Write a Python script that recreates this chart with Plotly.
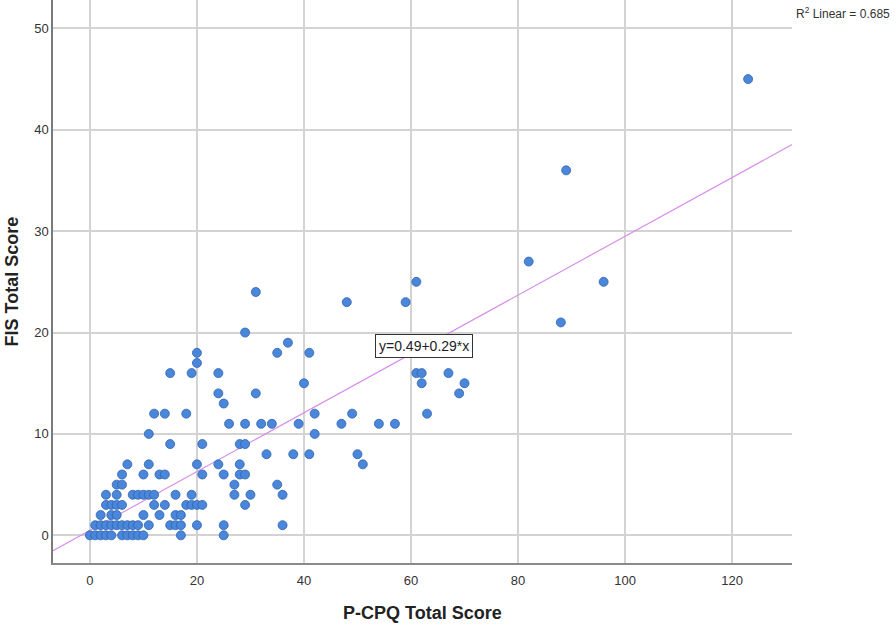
import plotly.graph_objects as go

# ---- data ----
pcpq_total = [
    0, 1, 2, 3, 4, 6, 7, 8, 9, 10, 17, 25,
    1, 2, 3, 4, 5, 6, 7, 8, 9, 11, 15, 16, 17, 20, 25, 36,
    2, 4, 5, 10, 13, 16, 17,
    3, 4, 5, 6, 12, 14, 18, 19, 20, 21, 29,
    3, 5, 8, 9, 10, 11, 12, 16, 19, 27, 30, 36,
    5, 6, 27, 35,
    6, 10, 13, 14, 21, 25, 28, 29,
    7, 11, 20, 24, 28, 51,
    33, 38, 41, 50,
    15, 21, 28, 29,
    11, 42,
    26, 29, 32, 34, 39, 47, 54, 57,
    12, 14, 18, 42, 49, 63,
    25,
    24, 31, 69,
    40, 62, 70,
    15, 19, 24, 61, 62, 67,
    20,
    20, 35, 41,
    37,
    29,
    88,
    48, 59,
    31,
    61, 96,
    82,
    89,
    123,
]
fis_total = [
    0, 0, 0, 0, 0, 0, 0, 0, 0, 0, 0, 0,
    1, 1, 1, 1, 1, 1, 1, 1, 1, 1, 1, 1, 1, 1, 1, 1,
    2, 2, 2, 2, 2, 2, 2,
    3, 3, 3, 3, 3, 3, 3, 3, 3, 3, 3,
    4, 4, 4, 4, 4, 4, 4, 4, 4, 4, 4, 4,
    5, 5, 5, 5,
    6, 6, 6, 6, 6, 6, 6, 6,
    7, 7, 7, 7, 7, 7,
    8, 8, 8, 8,
    9, 9, 9, 9,
    10, 10,
    11, 11, 11, 11, 11, 11, 11, 11,
    12, 12, 12, 12, 12, 12,
    13,
    14, 14, 14,
    15, 15, 15,
    16, 16, 16, 16, 16, 16,
    17,
    18, 18, 18,
    19,
    20,
    21,
    23, 23,
    24,
    25, 25,
    27,
    36,
    45,
]
fit_intercept = 0.49
fit_slope = 0.29
r2_linear = 0.685
x_ticks = [0, 20, 40, 60, 80, 100, 120]
y_ticks = [0, 10, 20, 30, 40, 50]

# ---- layout constants ----
X_RANGE = [-6.9, 131.2]
Y_RANGE = [-2.73, 52.8]
SANS = "Liberation Sans, Arial, sans-serif"

line_x = X_RANGE
line_y = [fit_intercept + fit_slope * v for v in line_x]

fig = go.Figure()
fig.add_trace(go.Scatter(
    x=line_x, y=line_y, mode="lines",
    line=dict(color="#d990ea", width=1.2),
    hoverinfo="skip", showlegend=False,
))
fig.add_trace(go.Scatter(
    x=pcpq_total, y=fis_total, mode="markers",
    marker=dict(size=9, color="#4a86da", line=dict(color="#2f63b0", width=0.8)),
    showlegend=False,
))

fig.update_layout(
    width=896, height=627,
    margin=dict(l=53, r=104, t=0, b=64, autoexpand=False),
    plot_bgcolor="white", paper_bgcolor="white",
    font=dict(family=SANS, color="#333333", size=13),
    xaxis=dict(
        range=X_RANGE, tickvals=x_ticks, ticktext=[str(v) for v in x_ticks],
        showgrid=True, gridcolor="#d3d3d3", gridwidth=1.5,
        zeroline=False, showline=True, linecolor="#8a8a8a", linewidth=1.5,
        ticks="", ticklabelstandoff=5, tickfont=dict(size=13, family=SANS, color="#333333"),
    ),
    yaxis=dict(
        range=Y_RANGE, tickvals=y_ticks, ticktext=[str(v) for v in y_ticks],
        showgrid=True, gridcolor="#d3d3d3", gridwidth=1.5,
        zeroline=False, showline=True, linecolor="#7a7a7a", linewidth=1.5,
        ticks="", tickfont=dict(size=13, family=SANS, color="#333333"),
    ),
    annotations=[
        dict(text="<b>P-CPQ Total Score</b>", xref="paper", yref="paper",
             x=0.5, y=-0.089, xanchor="center", yanchor="middle", showarrow=False,
             font=dict(size=18, family=SANS, color="#222222")),
        dict(text="<b>FIS Total Score</b>", xref="paper", yref="paper",
             x=-0.0555, y=0.5, xanchor="center", yanchor="middle", showarrow=False,
             textangle=-90, font=dict(size=18, family=SANS, color="#222222")),
        dict(text="y=%.2f+%.2f*x" % (fit_intercept, fit_slope), xref="x", yref="y",
             x=62.5, y=18.7, xanchor="center", yanchor="middle", showarrow=False,
             bgcolor="white", bordercolor="#333333", borderwidth=1, borderpad=3,
             font=dict(size=14, family=SANS, color="#222222")),
        dict(text="R<sup>2</sup> Linear = %.3f" % r2_linear, xref="paper", yref="paper",
             x=1.003, y=0.977, xanchor="left", yanchor="middle", showarrow=False,
             font=dict(size=12, family=SANS, color="#333333")),
    ],
)

fig.write_html("out.html", config={"displayModeBar": False},
               post_script="document.body.style.margin='0';")
